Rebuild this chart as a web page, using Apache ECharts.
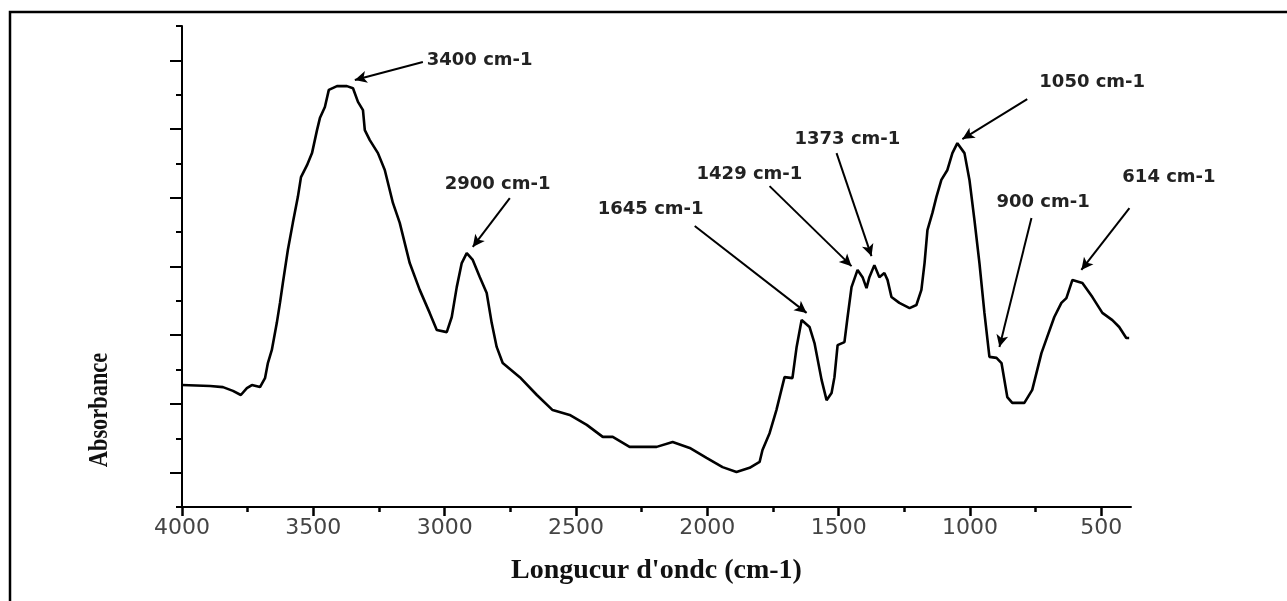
<!DOCTYPE html>
<html>
<head>
<meta charset="utf-8">
<script src="https://cdn.jsdelivr.net/npm/echarts@6/dist/echarts.min.js"></script>
<style>
  html, body { margin: 0; padding: 0; background: #ffffff; }
  #chart { width: 1287px; height: 601px; }
</style>
</head>
<body>
<div id="chart"></div>
<script>
// ---- Data ----
const wavenumber = [4000,3893,3844,3806,3776,3753,3734,3703,3684,3673,3658,3639,3627,3616,3597,3578,3559,3547,3524,3505,3486,3475,3456,3441,3410,3372,3349,3330,3311,3304,3285,3254,3228,3197,3171,3133,3095,3057,3030,2992,2973,2954,2935,2916,2893,2866,2840,2821,2802,2779,2714,2649,2589,2524,2459,2398,2360,2296,2193,2132,2067,2003,1942,1889,1839,1801,1790,1763,1737,1706,1676,1660,1641,1611,1592,1565,1546,1527,1516,1504,1478,1466,1451,1428,1409,1394,1383,1364,1345,1326,1314,1299,1269,1230,1204,1185,1173,1162,1143,1128,1109,1086,1067,1048,1021,1002,983,964,945,926,899,880,858,839,793,763,728,706,679,652,633,610,572,534,496,458,432,405,394];
const absorbance = [3.55,3.52,3.49,3.38,3.26,3.46,3.55,3.49,3.75,4.19,4.57,5.36,5.94,6.52,7.48,8.27,9.02,9.60,9.95,10.30,10.97,11.32,11.64,12.14,12.25,12.25,12.19,11.79,11.55,10.97,10.68,10.30,9.81,8.85,8.27,7.10,6.32,5.65,5.15,5.09,5.53,6.40,7.10,7.39,7.19,6.69,6.23,5.36,4.66,4.19,3.78,3.26,2.82,2.68,2.39,2.04,2.04,1.75,1.75,1.89,1.72,1.43,1.16,1.02,1.14,1.31,1.66,2.15,2.82,3.78,3.75,4.66,5.44,5.24,4.77,3.70,3.11,3.32,3.78,4.71,4.80,5.53,6.40,6.90,6.69,6.37,6.69,7.04,6.69,6.81,6.61,6.11,5.94,5.79,5.88,6.32,7.10,8.06,8.56,9.02,9.52,9.81,10.30,10.59,10.30,9.52,8.35,7.10,5.65,4.37,4.34,4.19,3.20,3.03,3.03,3.41,4.48,4.95,5.53,5.94,6.08,6.61,6.52,6.11,5.65,5.44,5.24,4.92,4.92];

// x tick labels (cm-1) and minor ticks
const xMajorTicks = [4000,3500,3000,2500,2000,1500,1000,500];
const xMinorTicks = [3750,3250,2750,2250,1750,1250,750];
// y ticks (arbitrary absorbance units, no labels in the reference)
const yMajorTicks = [1,3,5,7,9,11,13];
const yMinorTicks = [0,2,4,6,8,10,12,14];

// peak annotations (data coordinates)
const peakLabels   = ['3400 cm-1','2900 cm-1','1645 cm-1','1429 cm-1','1373 cm-1','1050 cm-1','900 cm-1','614 cm-1'];
const labelWn      = [3068, 3000, 2417, 2041, 1668, 736, 899, 420];
const labelAbs     = [13.01, 9.40, 8.67, 9.69, 10.71, 12.37, 8.88, 9.60];
const arrowFromWn  = [3083, 2752, 2048, 1763, 1508, 782, 766, 393];
const arrowFromAbs = [12.95, 8.99, 8.18, 9.34, 10.30, 11.87, 8.41, 8.70];
const arrowToWn    = [3342, 2893, 1622, 1451, 1375, 1029, 888, 576];
const arrowToAbs   = [12.43, 7.57, 5.65, 7.01, 7.30, 10.71, 4.66, 6.90];

const xMin = 387, xMax = 4000, yMin = 0, yMax = 14;

const chart = echarts.init(document.getElementById('chart'), null, { renderer: 'canvas' });

const spectrum = wavenumber.map((w, i) => [w, absorbance[i]]);
const arrowData = peakLabels.map((_, i) => [
  { coord: [arrowFromWn[i], arrowFromAbs[i]], symbol: 'none' },
  { coord: [arrowToWn[i], arrowToAbs[i]], symbol: 'arrow', symbolSize: [9, 12] }
]);
const labelData = peakLabels.map((name, i) => ({ name: name, coord: [labelWn[i], labelAbs[i]] }));

const axisLineStyle = { color: '#000', width: 2 };

chart.setOption({
  animation: false,
  backgroundColor: '#ffffff',
  grid: { left: 182, right: 156, top: 26, bottom: 94, containLabel: false },
  xAxis: [
    {
      type: 'value', position: 'bottom', inverse: true, min: xMin, max: xMax,
      name: "Longucur d'ondc (cm-1)", nameLocation: 'middle', nameGap: 50,
      nameTextStyle: { fontFamily: '"Liberation Serif", serif', fontWeight: 'bold', fontSize: 28, color: '#111' },
      axisLine: { show: true, onZero: false, lineStyle: axisLineStyle },
      axisTick: { show: true, customValues: xMajorTicks, length: 9, lineStyle: { color: '#000', width: 2.5 } },
      axisLabel: { show: true, customValues: xMajorTicks, margin: 10, formatter: v => String(v),
                   fontFamily: '"DejaVu Sans", sans-serif', fontSize: 22, color: '#444' },
      splitLine: { show: false }
    },
    {
      type: 'value', position: 'bottom', inverse: true, min: xMin, max: xMax,
      axisLine: { show: false },
      axisTick: { show: true, customValues: xMinorTicks, length: 5, lineStyle: { color: '#000', width: 2.5 } },
      axisLabel: { show: false },
      splitLine: { show: false }
    }
  ],
  yAxis: [
    {
      type: 'value', position: 'left', min: yMin, max: yMax,
      axisLine: { show: true, onZero: false, lineStyle: axisLineStyle },
      axisTick: { show: true, customValues: yMajorTicks, length: 12, lineStyle: { color: '#000', width: 2 } },
      axisLabel: { show: false },
      splitLine: { show: false }
    },
    {
      type: 'value', position: 'left', min: yMin, max: yMax,
      axisLine: { show: false },
      axisTick: { show: true, customValues: yMinorTicks, length: 6, lineStyle: { color: '#000', width: 2 } },
      axisLabel: { show: false },
      splitLine: { show: false }
    }
  ],
  series: [
    {
      type: 'line', xAxisIndex: 0, yAxisIndex: 0, data: spectrum,
      showSymbol: false, symbol: 'none', smooth: false,
      lineStyle: { color: '#000', width: 2.6 },
      clip: false,
      markLine: {
        silent: true, animation: false,
        symbol: ['none', 'arrow'], symbolSize: 12,
        lineStyle: { color: '#000', width: 2, type: 'solid' },
        itemStyle: { color: '#000' },
        label: { show: false },
        emphasis: { disabled: true },
        data: arrowData
      },
      markPoint: {
        silent: true, animation: false,
        symbol: 'circle', symbolSize: 0,
        itemStyle: { color: 'transparent' },
        label: {
          show: true, position: 'right', distance: 0, formatter: '{b}',
          fontFamily: '"DejaVu Sans", sans-serif', fontWeight: 'bold', fontSize: 18, color: '#222'
        },
        data: labelData
      }
    }
  ],
  graphic: [
    { type: 'polyline', shape: { points: [[10, 601], [10, 12], [1287, 12]] }, style: { stroke: '#000', lineWidth: 2.5, fill: null }, silent: true },
    {
      type: 'text', x: 100, y: 410, rotation: Math.PI / 2, scaleX: 0.8, silent: true,
      style: { text: 'Absorbance', font: 'bold 28px "Liberation Serif", serif', fill: '#111', align: 'center', verticalAlign: 'middle' }
    }
  ]
});
</script>
</body>
</html>
